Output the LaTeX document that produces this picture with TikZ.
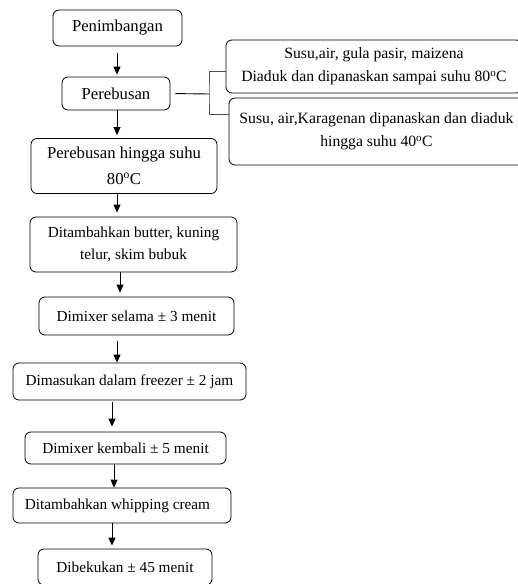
\documentclass[tikz,border=0pt]{standalone}
\usepackage{fontspec}
\setmainfont{Liberation Serif}
\usetikzlibrary{arrows.meta, positioning}

\begin{document}
\begin{tikzpicture}[
  x=1pt, y=-1pt,
  box/.style={rectangle, draw, rounded corners=6pt, inner sep=0pt, align=center,
              font=\fontsize{15.3}{22}\selectfont, line width=0.8pt},
  bigbox/.style={box, font=\fontsize{16.7}{26}\selectfont},
  sidebox/.style={box, font=\fontsize{15.7}{23}\selectfont},
  arr/.style={-{Triangle[length=8pt, width=7pt]}, line width=1pt},
  brk/.style={line width=0.9pt, gray!60!black}
]
\useasboundingbox (0,0) rectangle (518,584);
\clip (0,0) rectangle (518,584);

%% --- main column ---
\node[bigbox, minimum width=129pt, minimum height=36pt] (pn) at (117.5,28)  {Penimbangan};
\node[bigbox, minimum width=108pt, minimum height=33pt] (pr) at (116,93.5)  {Perebusan};
\node[bigbox, minimum width=186pt, minimum height=55pt] (ph) at (124,166) {Perebusan hingga suhu\\80\textsuperscript{o}C};
\node[box, minimum width=207pt, minimum height=55pt] (tb) at (133.5,244.5) {Ditambahkan butter, kuning\\telur, skim bubuk};
\node[box, minimum width=195pt, minimum height=38pt] (m3) at (136.5,316) {Dimixer selama ± 3 menit};
\node[box, minimum width=233pt, minimum height=37pt] (fz) at (129.5,381.5) {Dimasukan dalam freezer ± 2 jam};
\node[box, minimum width=201pt, minimum height=32pt] (m5) at (125.5,448) {Dimixer kembali ± 5 menit};
\node[box, minimum width=218pt, minimum height=35pt] (wc) at (122,505.5) {Ditambahkan whipping cream\hspace{9pt}};
\node[box, minimum width=174pt, minimum height=36pt] (bk) at (125,567) {Dibekukan ± 45 menit};

\draw[arr] ([xshift=-0.5pt,yshift=-7pt]pn.south) -- ([xshift=-0.5pt,yshift=2pt]pn.south |- pr.north);
\draw[arr] ([xshift=1pt]pr.south)     -- ([xshift=1pt,yshift=3pt]pr.south |- ph.north);
\draw[arr] ([xshift=-7pt]ph.south)    -- ([xshift=-7pt,yshift=4pt]ph.south |- tb.north);
\draw[arr] ([xshift=-13.5pt]tb.south) -- ([xshift=-13.5pt,yshift=4pt]tb.south |- m3.north);
\draw[arr] ([xshift=-19.5pt,yshift=-6pt]m3.south) -- ([xshift=-19.5pt]m3.south |- fz.north);
\draw[arr] ([xshift=-17.5pt,yshift=-2pt]fz.south) -- ([xshift=-17.5pt,yshift=5pt]fz.south |- m5.north);
\draw[arr] ([xshift=-11.5pt]m5.south) -- ([xshift=-11.5pt]m5.south |- wc.north);
\draw[arr] ([xshift=-10pt]wc.south)   -- ([xshift=-10pt,yshift=3pt]wc.south |- bk.north);

%% --- side boxes ---
\node[sidebox, minimum width=296pt, minimum height=53pt] (sa) at (374,66.5)
  {Susu,air, gula pasir, maizena\\Diaduk dan dipanaskan sampai suhu 80\textsuperscript{o}C};
\node[sidebox, minimum width=295pt, minimum height=67pt] (sb) at (376.5,131.5)
  {Susu, air,Karagenan dipanaskan dan diaduk\\hingga suhu 40\textsuperscript{o}C};

\coordinate (jn) at (209,94);
\draw[line width=0.9pt, shorten <=5pt] (pr.east) -- (jn);
\draw[brk] ([yshift=-4.5pt]sa.west) -| (jn) |- ([yshift=17.5pt]sb.west);

\end{tikzpicture}
\end{document}
